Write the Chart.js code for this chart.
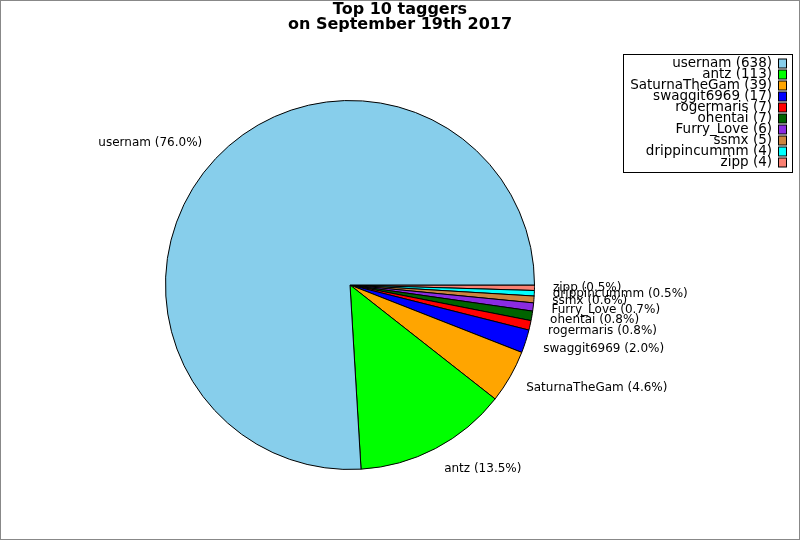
<!DOCTYPE html>
<html>
<head>
<meta charset="utf-8">
<script src="https://cdn.jsdelivr.net/npm/chart.js@4"></script>
<style>
  body { margin: 0; background: #fff; }
  canvas { display: block; }
</style>
</head>
<body>
<canvas id="myChart" width="800" height="540"></canvas>
<script>
const taggers = ['usernam', 'antz', 'SaturnaTheGam', 'swaggit6969', 'rogermaris',
    'ohentai', 'Furry_Love', 'ssmx', 'drippincummm', 'zipp'];
const counts = [638, 113, 39, 17, 7, 7, 6, 5, 4, 4];
const colors = ['#87CEEB', '#00FF00', '#FFA500', '#0000FF', '#FF0000',
    '#006400', '#8A2BE2', '#CD853F', '#00FFFF', '#FA8072'];
const titleLines = ['Top 10 taggers', 'on September 19th 2017'];

const total = counts.reduce((a, b) => a + b, 0);

// matplotlib draws counter-clockwise from 3 o'clock, Chart.js clockwise,
// so feed the slices in reverse order
const rev = arr => arr.slice().reverse();

const fontFamily = '"DejaVu Sans", sans-serif';

const extras = {
    id: 'extras',
    afterDatasetsDraw(chart) {
        const ctx = chart.ctx;
        const meta = chart.getDatasetMeta(0);
        const labels = chart.data.labels;
        const values = chart.data.datasets[0].data;

        // slice labels outside the pie
        ctx.save();
        ctx.font = '12px ' + fontFamily;
        ctx.fillStyle = '#000';
        ctx.textBaseline = 'middle';
        meta.data.forEach((arc, i) => {
            const p = arc.getProps(['x', 'y', 'startAngle', 'endAngle', 'outerRadius'], true);
            const mid = (p.startAngle + p.endAngle) / 2;
            const x = p.x + Math.cos(mid) * p.outerRadius * 1.1;
            const y = p.y + Math.sin(mid) * p.outerRadius * 1.125;
            ctx.textAlign = Math.cos(mid) >= 0 ? 'left' : 'right';
            const pct = (values[i] / total * 100).toFixed(1);
            ctx.fillText(labels[i] + ' (' + pct + '%)', x, y);
        });
        ctx.restore();

        // title
        ctx.save();
        ctx.font = 'bold 16px ' + fontFamily;
        ctx.fillStyle = '#000';
        ctx.textAlign = 'center';
        ctx.textBaseline = 'middle';
        ctx.fillText(titleLines[0], 400, 10);
        ctx.fillText(titleLines[1], 400, 24.5);
        ctx.restore();

        // legend, original order
        ctx.save();
        ctx.strokeStyle = '#000';
        ctx.lineWidth = 1;
        ctx.fillStyle = '#fff';
        ctx.fillRect(623.5, 54.5, 169, 118);
        ctx.strokeRect(623.5, 54.5, 169, 118);
        ctx.font = '13.5px ' + fontFamily;
        ctx.textAlign = 'right';
        ctx.textBaseline = 'middle';
        taggers.forEach((name, i) => {
            const y = 63.5 + i * 11;
            ctx.fillStyle = '#000';
            ctx.fillText(name + ' (' + counts[i] + ')', 772, y);
            ctx.fillStyle = colors[i];
            ctx.fillRect(778.5, y - 4.5, 8, 9);
            ctx.strokeRect(778.5, y - 4.5, 8, 9);
        });
        ctx.restore();

        // figure frame
        ctx.save();
        ctx.strokeStyle = '#888';
        ctx.lineWidth = 1;
        ctx.strokeRect(0.5, 0.5, 799, 539);
        ctx.restore();
    }
};

const ctx = document.getElementById('myChart').getContext('2d');
const chart = new Chart(ctx, {
    type: 'pie',
    data: {
        labels: rev(taggers),
        datasets: [{
            data: rev(counts),
            backgroundColor: rev(colors),
            borderColor: '#000',
            borderWidth: 1
        }]
    },
    options: {
        responsive: false,
        animation: false,
        rotation: 90,
        layout: {
            padding: { left: 165, right: 265, top: 100, bottom: 70 }
        },
        plugins: {
            legend: { display: false },
            title: { display: false },
            tooltip: { enabled: false }
        }
    },
    plugins: [extras]
});
</script>
</body>
</html>
